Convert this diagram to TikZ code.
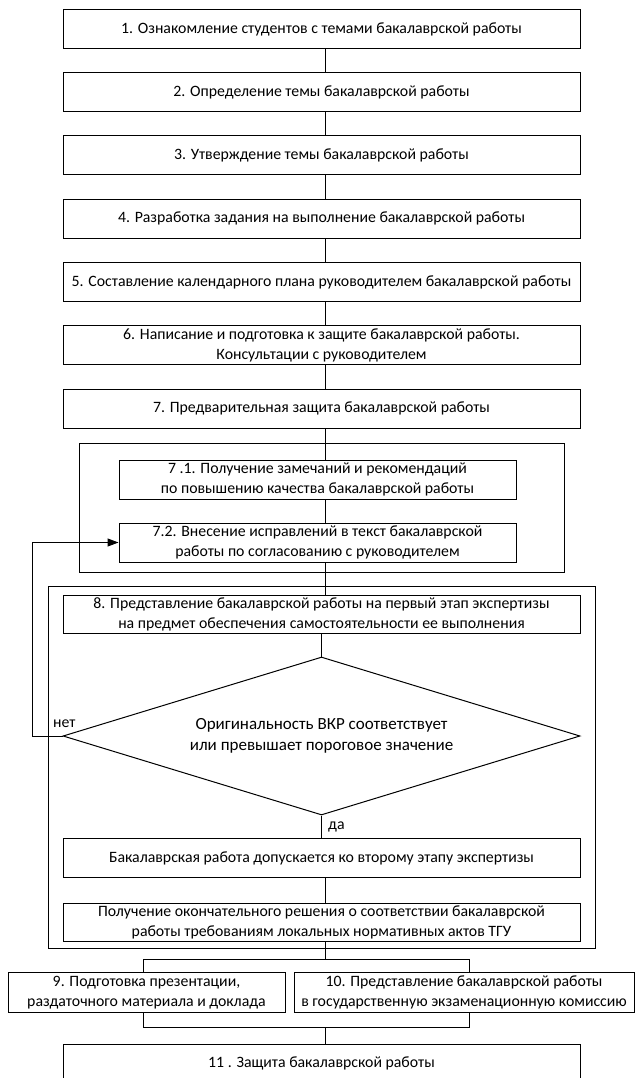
\documentclass[tikz,border=0pt]{standalone}
\usepackage{fontspec}
\setmainfont{Carlito}
\usetikzlibrary{arrows.meta,shapes.geometric}
\begin{document}
\begin{tikzpicture}[x=1pt,y=-1pt,
  box/.style={draw, line width=1pt, rectangle, minimum height=39pt, inner sep=0pt, align=center, font=\fontsize{15.8}{20}\selectfont},
  dec/.style={draw, line width=1pt, diamond, aspect=3.27, minimum width=517pt, minimum height=158pt, inner sep=0pt, align=center, font=\fontsize{17}{20.5}\selectfont},
  grp/.style={draw, line width=1pt},
  con/.style={line width=1pt},
  lbl/.style={font=\fontsize{15.8}{20}\selectfont, inner sep=0pt}]
\useasboundingbox (0,0) rectangle (635,1078);
\fill[white] (0,0) rectangle (635,1078);

% group frames
\draw[grp] (79,443) rectangle (564,572);
\draw[grp] (48,586) rectangle (595,948);

\node[box, minimum width=517pt] (b1) at (321.5,29.5) {1. Ознакомление студентов с темами бакалаврской работы};
\node[box, minimum width=517pt] (b2) at (321.5,92.5) {2. Определение темы бакалаврской работы};
\node[box, minimum width=517pt] (b3) at (321.5,155.5) {3. Утверждение темы бакалаврской работы};
\node[box, minimum width=517pt] (b4) at (321.5,218.5) {4. Разработка задания на выполнение бакалаврской работы};
\node[box, minimum width=517pt] (b5) at (321.5,282) {5. Составление календарного плана руководителем бакалаврской работы};
\node[box, minimum width=517pt] (b6) at (321.5,345.3) {6. Написание и подготовка к защите бакалаврской работы.\\Консультации с руководителем};
\node[box, minimum width=517pt] (b7) at (321.5,408.5) {7. Предварительная защита бакалаврской работы};
\node[box, minimum width=397pt] (b71) at (317.5,479.5) {7 .1. Получение замечаний и рекомендаций\\по повышению качества бакалаврской работы};
\node[box, minimum width=397pt] (b72) at (317.5,542.5) {7.2. Внесение исправлений в текст бакалаврской\\работы по согласованию с руководителем};
\node[box, minimum width=517pt, minimum height=38pt] (b8) at (321.5,614) {8. Представление бакалаврской работы на первый этап экспертизы\\на предмет обеспечения самостоятельности ее выполнения};
\node[dec] (d) at (321.5,736) {Оригинальность ВКР соответствует\\или превышает пороговое значение};
\node[box, minimum width=517pt] (bA) at (321.5,858) {Бакалаврская работа допускается ко второму этапу экспертизы};
\node[box, minimum width=517pt, minimum height=38pt] (bB) at (321.5,922) {Получение окончательного решения о соответствии бакалаврской\\работы требованиям локальных нормативных актов ТГУ};
\node[box, minimum width=277pt, minimum height=40pt] (b9) at (146.5,992.5) {9. Подготовка презентации,\\раздаточного материала и доклада};
\node[box, minimum width=340pt, minimum height=40pt] (b10) at (464,992.5) {10. Представление бакалаврской работы\\в государственную экзаменационную комиссию};
\node[box, minimum width=517pt] (b11) at (321.5,1063.5) {11 . Защита бакалаврской работы};

\node[lbl, anchor=base west] (no) at (53,727) {нет};
\node[lbl, anchor=base west] (yes) at (328,829) {да};

\coordinate (cx) at (325,0);
\draw[con] (b1.south -| cx) -- (b2.north -| cx);
\draw[con] (b2.south -| cx) -- (b3.north -| cx);
\draw[con] (b3.south -| cx) -- (b4.north -| cx);
\draw[con] (b4.south -| cx) -- (b5.north -| cx);
\draw[con] (b5.south -| cx) -- (b6.north -| cx);
\draw[con] (b6.south -| cx) -- (b7.north -| cx);
\draw[con] (b7.south -| cx) -- (b71.north -| cx);
\draw[con] (b71.south -| cx) -- (b72.north -| cx);
\draw[con] (b72.south -| cx) -- (b8.north -| cx);
\draw[con] (b8.south -| d.north) -- (d.north);
\draw[con] (d.south) -- (bA.north -| d.south);
\draw[con] (bA.south -| cx) -- (bB.north -| cx);

\coordinate (br) at (325,959);
\coordinate (l9) at (143,959);
\coordinate (l10) at (469,959);
\draw[con] (bB.south -| cx) -- (br);
\draw[con] (l9 |- b9.north) -- (l9) -- (l10) -- (l10 |- b10.north);

\coordinate (j) at (325,1027);
\coordinate (j9) at (143,1027);
\coordinate (j10) at (469,1027);
\draw[con] (j9 |- b9.south) -- (j9) -- (j10) -- (j10 |- b10.south);
\draw[con] (j) -- (b11.north -| j);

\coordinate (lp) at (32,0);
\draw[con, -{Triangle[length=11pt,width=8pt]}] (d.west) -- (d.west -| lp) -- (b72.west -| lp) -- (b72.west);
\end{tikzpicture}
\end{document}
